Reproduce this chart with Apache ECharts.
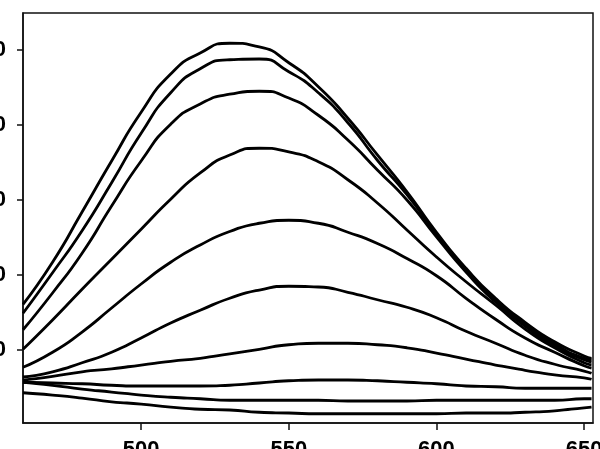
<!DOCTYPE html>
<html>
<head>
<meta charset="utf-8">
<script src="https://cdn.jsdelivr.net/npm/echarts@6/dist/echarts.min.js"></script>
<style>
html,body{margin:0;padding:0;background:#fff;}
#chart{width:600px;height:449px;}
</style>
</head>
<body>
<div id="chart"></div>
<script>
// Wavelength (nm)
const wavelengths = [460,470,480,490,500,510,520,530,540,550,560,570,580,590,600,610,620,630,640,650,652.5];
// Intensity curves (top to bottom)
const curve1  = [161,217,284,352,417,468,496,509,504,483,451,409,360,311,257,209,169,137,111,92,89];
const curve2  = [149,203,259,323,389,443,475,487,488,471,443,403,353,307,255,207,167,135,108,89,87];
const curve3  = [127,176,229,292,352,401,428,441,445,436,413,380,340,300,251,204,164,132,105,87,84];
const curve4  = [101,140,181,221,261,301,336,360,369,364,351,327,296,260,224,191,160,128,103,83,80];
const curve5  = [77,97,124,156,188,217,240,258,269,273,269,257,242,222,199,169,141,116,97,79,76];
const curve6  = [64,71,83,97,116,136,153,169,180,185,184,177,167,157,143,125,109,93,81,72,69];
const curve7  = [60,65,71,75,80,85,89,95,101,107,109,109,107,103,96,88,80,73,67,63,61];
const curve8  = [57,56,55,53,52,52,52,53,56,59,60,60,59,57,55,52,51,49,49,49,49];
const curve9  = [57,53,48,44,40,37,35,33,33,33,33,32,32,32,33,33,33,33,33,35,35];
const curve10 = [43,40,36,31,28,24,21,20,17,16,15,15,15,15,15,16,16,17,19,23,24];
const curves = [curve1,curve2,curve3,curve4,curve5,curve6,curve7,curve8,curve9,curve10];
// Axis ticks
const xTicks = [500,550,600,650];
const yTicks = [100,200,300,400,500];

const chart = echarts.init(document.getElementById('chart'), null, {renderer:'canvas'});
const labelFont = {fontFamily:'Liberation Sans, Arial, sans-serif', fontWeight:'bold', fontSize:22, color:'#000'};
chart.setOption({
  animation:false,
  backgroundColor:'#fff',
  grid:{left:23, right:7, top:13, bottom:26, show:true, borderColor:'#111', borderWidth:1.5, containLabel:false, outerBoundsMode:'none'},
  xAxis:{
    type:'value', min:460, max:653,
    axisLine:{show:true, lineStyle:{color:'#111', width:1.5}},
    axisTick:{show:true, length:7, lineStyle:{color:'#111', width:1.5}, customValues:xTicks},
    axisLabel:Object.assign({margin:16, customValues:xTicks, hideOverlap:false}, labelFont),
    splitLine:{show:false}
  },
  yAxis:{
    type:'value', min:2.7, max:549.3,
    axisLine:{show:true, lineStyle:{color:'#111', width:1.5}},
    axisTick:{show:true, length:6, lineStyle:{color:'#111', width:1.5}, customValues:yTicks},
    axisLabel:Object.assign({margin:17, customValues:yTicks, hideOverlap:false}, labelFont),
    splitLine:{show:false}
  },
  series:curves.map(c => ({
    type:'line',
    data:wavelengths.map((w,i)=>[w,c[i]]),
    smooth:0.6,
    showSymbol:false,
    clip:true,
    lineStyle:{color:'#000', width:2.8}
  }))
});
</script>
</body>
</html>
